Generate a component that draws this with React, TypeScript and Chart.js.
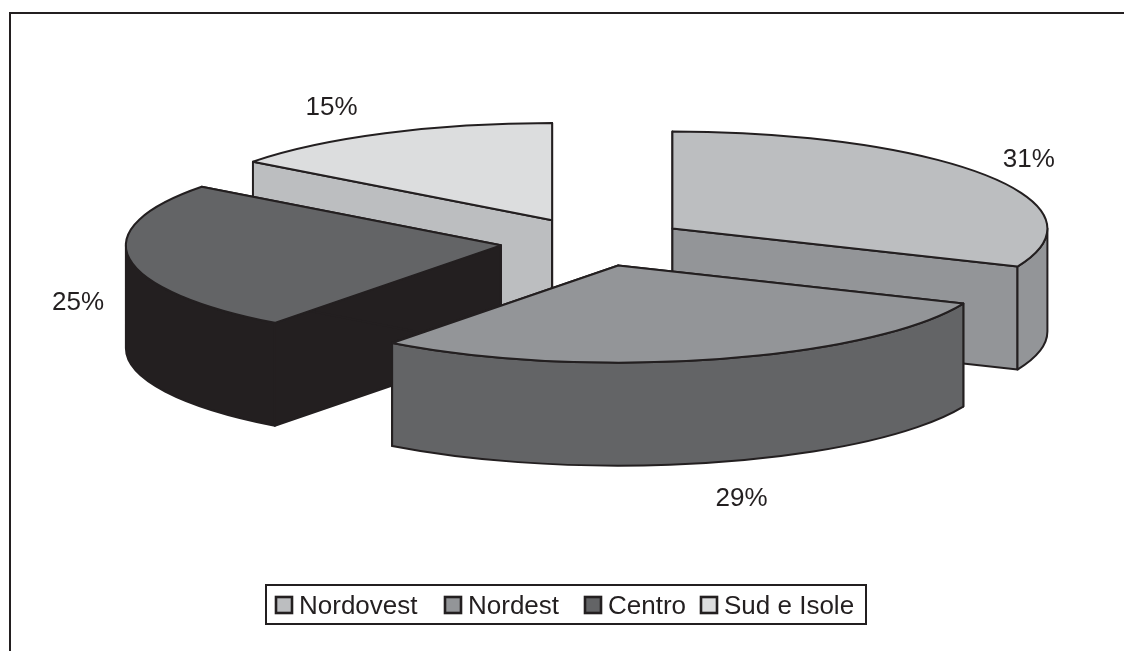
import React, { useEffect, useRef } from "react";
import { Chart, registerables } from "chart.js";

Chart.register(...registerables);

const categories = ["Nordovest", "Nordest", "Centro", "Sud e Isole"];
const shares = [31.4, 28.9, 25, 14.7];
const topColors = ["#bcbec0", "#939598", "#636466", "#dcddde"];
const sideColors = ["#939598", "#636466", "#231f20", "#bcbec0"];

const INK = "#231f20";
const FONT = '"Liberation Sans", Arial, sans-serif';
const SQUASH = 0.259;
const DEPTH = 103;
const EXPLODE = 94;
const RADIUS = 375;
const LABEL_RADIUS = 432;
const labelNudges = [[-4, -7], [12, 125], [5, 42], [-28, -12]];
const legendSwatchX = [276, 445, 585, 701];

const pie3d = {
  id: "pie3d",
  beforeDatasetsDraw(chart: any) {
    const { ctx } = chart;
    const arcs = chart.getDatasetMeta(0).data;
    const pieces = arcs.map((arc: any, i: number) => {
      const { startAngle, endAngle, outerRadius, x, y } = arc.getProps(
        ["startAngle", "endAngle", "outerRadius", "x", "y"],
        true
      );
      const mid = (startAngle + endAngle) / 2;
      const off = arc.options.offset;
      return {
        i,
        a0: startAngle,
        a1: endAngle,
        r: outerRadius,
        mid,
        px: x + Math.cos(mid) * off,
        py: y + Math.sin(mid) * off * SQUASH,
      };
    });

    ctx.save();
    ctx.lineWidth = 2;
    ctx.strokeStyle = INK;
    ctx.lineJoin = "round";
    const rx = (p: any, a: number) => p.px + p.r * Math.cos(a);
    const ry = (p: any, a: number) => p.py + p.r * SQUASH * Math.sin(a);

    [...pieces]
      .sort((a, b) => Math.sin(a.mid) - Math.sin(b.mid))
      .forEach((p) => {
        ctx.fillStyle = sideColors[p.i];
        [p.a0, p.a1].forEach((a) => {
          ctx.beginPath();
          ctx.moveTo(p.px, p.py);
          ctx.lineTo(rx(p, a), ry(p, a));
          ctx.lineTo(rx(p, a), ry(p, a) + DEPTH);
          ctx.lineTo(p.px, p.py + DEPTH);
          ctx.closePath();
          ctx.fill();
          ctx.stroke();
        });
        const w0 = Math.max(p.a0, 0);
        const w1 = Math.min(p.a1, Math.PI);
        if (w1 > w0) {
          ctx.beginPath();
          ctx.ellipse(p.px, p.py, p.r, p.r * SQUASH, 0, w0, w1);
          ctx.lineTo(rx(p, w1), ry(p, w1) + DEPTH);
          ctx.ellipse(p.px, p.py + DEPTH, p.r, p.r * SQUASH, 0, w1, w0, true);
          ctx.closePath();
          ctx.fill();
          ctx.stroke();
        }
        ctx.fillStyle = topColors[p.i];
        ctx.beginPath();
        ctx.moveTo(p.px, p.py);
        ctx.ellipse(p.px, p.py, p.r, p.r * SQUASH, 0, p.a0, p.a1);
        ctx.closePath();
        ctx.fill();
        ctx.stroke();
      });

    ctx.fillStyle = INK;
    ctx.font = `26px ${FONT}`;
    ctx.textAlign = "center";
    ctx.textBaseline = "middle";
    pieces.forEach((p: any) => {
      const [nx, ny] = labelNudges[p.i];
      ctx.fillText(
        `${Math.round(shares[p.i])}%`,
        p.px + LABEL_RADIUS * Math.cos(p.mid) + nx,
        p.py + LABEL_RADIUS * SQUASH * Math.sin(p.mid) + ny
      );
    });
    ctx.restore();
    return false;
  },
  afterDraw(chart: any) {
    const { ctx } = chart;
    ctx.save();
    ctx.strokeStyle = INK;
    // page frame: top and left edges only
    ctx.lineWidth = 2;
    ctx.beginPath();
    ctx.moveTo(1124, 13);
    ctx.lineTo(10, 13);
    ctx.lineTo(10, 651);
    ctx.stroke();
    // legend
    ctx.lineWidth = 2;
    ctx.fillStyle = "#ffffff";
    ctx.fillRect(266, 585, 600, 39);
    ctx.strokeRect(266, 585, 600, 39);
    ctx.font = `26px ${FONT}`;
    ctx.textAlign = "left";
    ctx.textBaseline = "alphabetic";
    categories.forEach((name, i) => {
      const x = legendSwatchX[i];
      ctx.fillStyle = topColors[i];
      ctx.lineWidth = 2.6;
      ctx.fillRect(x, 597, 16, 16);
      ctx.strokeRect(x, 597, 16, 16);
      ctx.fillStyle = INK;
      ctx.fillText(name, x + 23, 614);
    });
    ctx.restore();
  },
};

export default function App() {
  const ref = useRef<HTMLCanvasElement>(null);
  useEffect(() => {
    const chart = new Chart(ref.current as HTMLCanvasElement, {
      type: "pie",
      data: {
        labels: categories,
        datasets: [
          {
            data: shares,
            backgroundColor: topColors,
            borderColor: INK,
            offset: EXPLODE,
          },
        ],
      },
      options: {
        responsive: false,
        animation: false,
        devicePixelRatio: 1,
        radius: RADIUS,
        layout: { padding: { left: 64, right: 0, top: 0, bottom: 167 } },
        plugins: { legend: { display: false }, tooltip: { enabled: false } },
      },
      plugins: [pie3d],
    } as any);
    return () => chart.destroy();
  }, []);
  return (
    <div style={{ position: "absolute", left: 0, top: 0, background: "#fff" }}>
      <canvas ref={ref} width={1124} height={651} style={{ display: "block" }} />
    </div>
  );
}
